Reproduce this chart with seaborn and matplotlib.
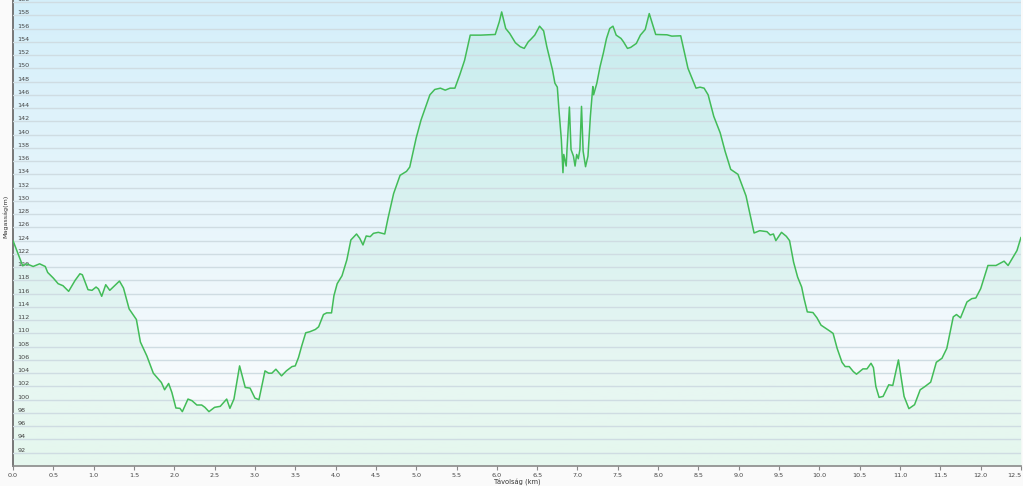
import numpy as np
import pandas as pd
import matplotlib
matplotlib.use("Agg")
import matplotlib.pyplot as plt
from matplotlib.colors import LinearSegmentedColormap
import seaborn as sns

# distance (km)
dist = [0.00, 0.12, 0.17, 0.25, 0.33, 0.40, 0.43, 0.50, 0.56, 0.62, 0.69, 0.77, 0.83, 0.86, 0.93,
        0.98, 1.03, 1.06, 1.10, 1.15, 1.20, 1.26, 1.32, 1.37, 1.44, 1.53, 1.58, 1.66, 1.74, 1.84,
        1.88, 1.93, 1.97, 2.02, 2.07, 2.10, 2.17, 2.22, 2.28, 2.34, 2.38, 2.43, 2.50, 2.57, 2.65,
        2.69, 2.74, 2.81, 2.88, 2.94, 3.00, 3.05, 3.125, 3.17, 3.21, 3.26, 3.33, 3.39, 3.46, 3.50,
        3.54, 3.58, 3.63, 3.68, 3.75, 3.79, 3.85, 3.89, 3.95, 3.98, 4.02, 4.08, 4.14, 4.19, 4.26,
        4.30, 4.34, 4.38, 4.43, 4.47, 4.53, 4.61, 4.65, 4.72, 4.80, 4.88, 4.92, 5.00, 5.06, 5.12,
        5.17, 5.23, 5.30, 5.36, 5.42, 5.48, 5.54, 5.60, 5.67, 5.80, 5.98, 6.03, 6.06, 6.11, 6.16,
        6.23, 6.29, 6.34, 6.39, 6.42, 6.47, 6.53, 6.58, 6.62, 6.66, 6.69, 6.72, 6.75, 6.77, 6.80,
        6.82, 6.83, 6.86, 6.87, 6.90, 6.92, 6.95, 6.97, 6.99, 7.01, 7.03, 7.05, 7.07, 7.10, 7.13,
        7.16, 7.19, 7.20, 7.24, 7.28, 7.32, 7.36, 7.40, 7.44, 7.48, 7.54, 7.57, 7.62, 7.66, 7.73,
        7.78, 7.84, 7.89, 7.97, 8.11, 8.17, 8.28, 8.31, 8.37, 8.47, 8.52, 8.57, 8.62, 8.69, 8.77,
        8.83, 8.90, 8.99, 9.09, 9.19, 9.26, 9.35, 9.39, 9.43, 9.46, 9.53, 9.59, 9.63, 9.68, 9.73,
        9.78, 9.81, 9.85, 9.92, 9.97, 10.02, 10.07, 10.13, 10.17, 10.22, 10.28, 10.32, 10.37, 10.42, 10.46,
        10.54, 10.59, 10.64, 10.67, 10.70, 10.74, 10.79, 10.86, 10.91, 10.98, 11.05, 11.11, 11.18, 11.25, 11.31,
        11.38, 11.45, 11.52, 11.58, 11.66, 11.70, 11.75, 11.83, 11.89, 11.94, 12.00, 12.09, 12.19, 12.29, 12.34,
        12.45, 12.50]

# elevation (m)
elev = [124.0, 120.2, 120.5, 120.1, 120.5, 120.1, 119.2, 118.35, 117.5, 117.2, 116.35, 118.0, 119.0, 118.85, 116.6,
        116.5, 117.0, 116.7, 115.6, 117.35, 116.5, 117.2, 117.9, 116.85, 113.7, 112.1, 108.7, 106.6, 104.0, 102.6,
        101.5, 102.45, 101.1, 98.75, 98.7, 98.2, 100.1, 99.85, 99.2, 99.2, 98.85, 98.2, 98.85, 99.0, 100.1,
        98.7, 100.1, 105.1, 101.85, 101.75, 100.25, 100.0, 104.35, 104.0, 104.0, 104.6, 103.6, 104.35, 105.0, 105.1,
        106.35, 108.1, 110.1, 110.25, 110.6, 111.0, 112.85, 113.1, 113.1, 115.7, 117.5, 118.7, 121.1, 124.1, 125.0,
        124.35, 123.35, 124.7, 124.6, 125.1, 125.25, 125.0, 127.35, 131.1, 133.85, 134.45, 135.1, 139.5, 142.2, 144.3,
        146.0, 146.8, 147.0, 146.7, 147.0, 147.0, 149.0, 151.2, 155.0, 155.0, 155.1, 157.0, 158.5, 156.0, 155.25,
        153.85, 153.25, 153.0, 154.0, 154.35, 155.0, 156.35, 155.65, 153.25, 151.25, 149.75, 147.75, 147.15, 143.75, 139.25,
        134.25, 137.0, 135.25, 137.75, 144.15, 137.75, 136.75, 135.25, 137.0, 136.35, 137.75, 144.25, 137.5, 135.15, 136.75,
        142.75, 147.25, 146.0, 147.75, 150.25, 152.25, 154.5, 156.0, 156.35, 155.0, 154.5, 154.0, 153.0, 153.15, 153.75,
        155.0, 155.85, 158.25, 155.1, 155.05, 154.85, 154.9, 153.25, 150.0, 147.0, 147.15, 147.0, 146.0, 142.75, 140.25,
        137.5, 134.75, 134.0, 130.75, 125.15, 125.5, 125.35, 124.85, 125.0, 124.0, 125.25, 124.65, 124.0, 120.75, 118.5,
        117.0, 115.25, 113.25, 113.15, 112.35, 111.25, 110.85, 110.35, 110.0, 107.75, 105.65, 105.0, 105.0, 104.25, 103.85,
        104.65, 104.65, 105.5, 104.85, 102.0, 100.35, 100.5, 102.25, 102.15, 106.0, 100.5, 98.65, 99.25, 101.5, 102.0,
        102.65, 105.65, 106.25, 107.75, 112.5, 112.85, 112.35, 114.75, 115.25, 115.35, 116.75, 120.25, 120.25, 120.9, 120.25,
        122.5, 124.5]

x_ticks = [0.0, 0.5, 1.0, 1.5, 2.0, 2.5, 3.0, 3.5, 4.0, 4.5, 5.0, 5.5, 6.0, 6.5, 7.0, 7.5, 8.0, 8.5,
           9.0, 9.5, 10.0, 10.5, 11.0, 11.5, 12.0, 12.5]
y_ticks = list(range(92, 162, 2))

df = pd.DataFrame({"dist": dist, "elev": elev})

sns.set_theme(style="white")
plt.rcParams['font.family'] = ['DejaVu Sans']

fig = plt.figure(figsize=(10.23, 4.86), dpi=100, facecolor="#fafafa")
ax = fig.add_axes([13 / 1023, 20 / 486, 1008 / 1023, 466 / 486])

x0, x1 = 0.0, 12.5
y0, y1 = 90.0, 160.3

# background gradient
cmap = LinearSegmentedColormap.from_list(
    "bg", [(0.0, "#f4fbf9"), (0.18, "#f7fbfd"), (0.55, "#e7f5fb"), (1.0, "#d4effa")])
grad = np.linspace(0, 1, 256).reshape(-1, 1)
ax.imshow(grad, aspect="auto", cmap=cmap, origin="lower",
          extent=[x0, x1, y0, y1], zorder=0)

ax.fill_between(df["dist"], df["elev"], y0, color="#2ecc71", alpha=0.075, lw=0, zorder=1)
sns.lineplot(data=df, x="dist", y="elev", ax=ax, color="#42bc58", lw=1.1,
             sort=False, zorder=3)

ax.set_xlim(x0, x1)
ax.set_ylim(y0, y1)

ax.set_yticks(y_ticks)
ax.set_yticklabels([str(v) for v in y_ticks])
ax.yaxis.grid(True, color="#cfdce2", lw=1.0, zorder=2)
ax.xaxis.grid(False)
ax.set_axisbelow(False)
ax.tick_params(axis="y", length=0, pad=-3, labelsize=4.6, labelcolor="#444444")
for lbl in ax.get_yticklabels():
    lbl.set_horizontalalignment("left")
    lbl.set_verticalalignment("bottom")

ax.set_xticks(x_ticks)
ax.set_xticklabels([f"{v:.1f}" for v in x_ticks])
ax.tick_params(axis="x", length=3, width=0.8, color="#888888", pad=2,
               labelsize=4.6, labelcolor="#444444", bottom=True)
ax.get_xticklabels()[-1].set_horizontalalignment("right")

for s in ["top", "right"]:
    ax.spines[s].set_visible(False)
ax.spines["left"].set_color("#777777")
ax.spines["left"].set_linewidth(1.4)
ax.spines["bottom"].set_color("#8a8a8a")
ax.spines["bottom"].set_linewidth(1.2)

ax.set_xlabel("Távolság (km)", fontsize=4.8, color="#333333", labelpad=1)
ax.set_ylabel("Magasság(m)", fontsize=4.6, color="#333333", labelpad=2)
ax.yaxis.set_label_coords(-0.0045, 0.535)

fig.savefig("out.png", dpi=100, facecolor=fig.get_facecolor())
